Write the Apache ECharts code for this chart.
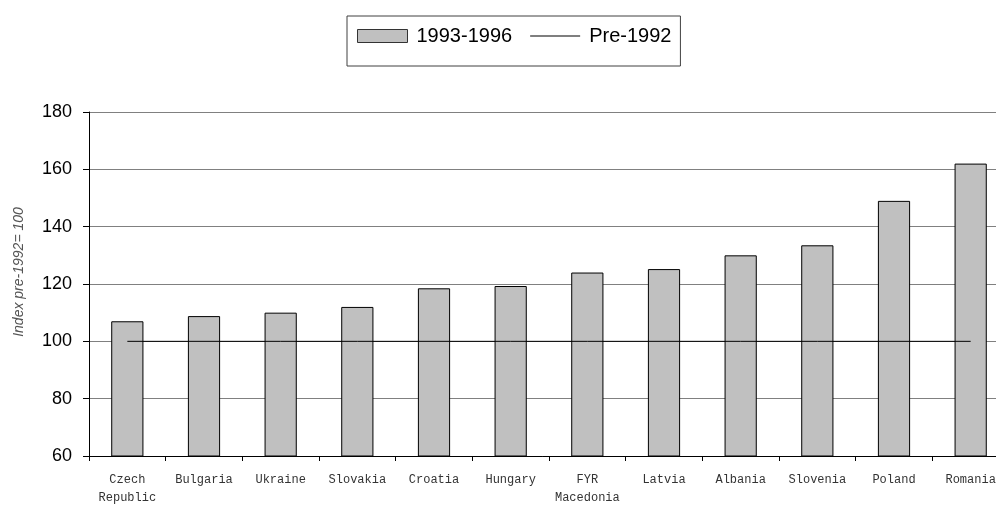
<!DOCTYPE html>
<html>
<head>
<meta charset="utf-8">
<script src="https://cdn.jsdelivr.net/npm/echarts@6/dist/echarts.min.js"></script>
<style>
  html, body { margin: 0; padding: 0; background: #fff; }
  #chart { width: 996px; height: 505px; }
</style>
</head>
<body>
<div id="chart"></div>
<script>
// Countries, ordered by index value
const categories = ['Czech\nRepublic', 'Bulgaria', 'Ukraine', 'Slovakia', 'Croatia', 'Hungary',
  'FYR\nMacedonia', 'Latvia', 'Albania', 'Slovenia', 'Poland', 'Romania'];
// Average index 1993-1996 (pre-1992 = 100)
const values1993to1996 = [107, 108.8, 110, 112, 118.5, 119.3, 124, 125.2, 130, 133.5, 149, 162];
// Reference level before 1992
const valuesPre1992 = [100, 100, 100, 100, 100, 100, 100, 100, 100, 100, 100, 100];
const yTicks = { min: 60, max: 180, interval: 20 };
const yAxisTitle = 'Index pre-1992= 100';

const chart = echarts.init(document.getElementById('chart'), null, { renderer: 'canvas' });
chart.setOption({
  animation: false,
  backgroundColor: '#ffffff',
  legend: {
    top: 16,
    left: 347,
    itemGap: 18,
    padding: [10, 9, 20, 10],
    borderColor: '#404040',
    borderWidth: 1,
    itemWidth: 50,
    itemHeight: 13,
    textStyle: { fontFamily: 'Liberation Sans, Arial', fontSize: 20, color: '#000', padding: [0, 0, 0, 4] },
    data: [
      { name: '1993-1996', icon: 'rect', itemStyle: { color: '#c0c0c0', borderColor: '#333', borderWidth: 1 } },
      { name: 'Pre-1992', icon: 'path://M0,0 L50,0 L50,1 L0,1 Z', itemStyle: { color: '#000', borderWidth: 0 } }
    ]
  },
  grid: { left: 89, top: 112, width: 920, bottom: 49, outerBoundsMode: 'none', containLabel: false },
  xAxis: {
    type: 'category',
    data: categories,
    boundaryGap: true,
    axisLine: { lineStyle: { color: '#000', width: 1 } },
    axisTick: { show: true, length: 5, inside: false, lineStyle: { color: '#000' } },
    axisLabel: {
      interval: 0,
      margin: 15,
      fontFamily: 'Liberation Mono, Courier New, monospace',
      fontSize: 12,
      lineHeight: 18,
      color: '#333'
    },
    splitLine: { show: false }
  },
  yAxis: {
    type: 'value',
    min: yTicks.min,
    max: yTicks.max,
    interval: yTicks.interval,
    axisLine: { show: true, lineStyle: { color: '#000', width: 1 } },
    axisTick: { show: true, length: 6, inside: false, lineStyle: { color: '#000' } },
    axisLabel: { margin: 17, fontFamily: 'Liberation Sans, Arial', fontSize: 18, color: '#000' },
    splitLine: { show: true, lineStyle: { color: '#808080', width: 1 } }
  },
  graphic: [
    {
      type: 'text',
      x: 19,
      y: 272,
      rotation: Math.PI / 2,
      style: {
        text: yAxisTitle,
        align: 'center',
        verticalAlign: 'middle',
        fontFamily: 'Liberation Sans, Arial',
        fontStyle: 'italic',
        fontSize: 14,
        fill: '#555'
      }
    }
  ],
  series: [
    {
      name: '1993-1996',
      type: 'bar',
      data: values1993to1996,
      barWidth: '42%',
      itemStyle: { color: '#c0c0c0', borderColor: '#000', borderWidth: 1 }
    },
    {
      name: 'Pre-1992',
      type: 'line',
      data: valuesPre1992,
      symbol: 'none',
      lineStyle: { color: '#000', width: 1 },
      itemStyle: { color: '#000' },
      z: 5
    }
  ]
});
</script>
</body>
</html>
